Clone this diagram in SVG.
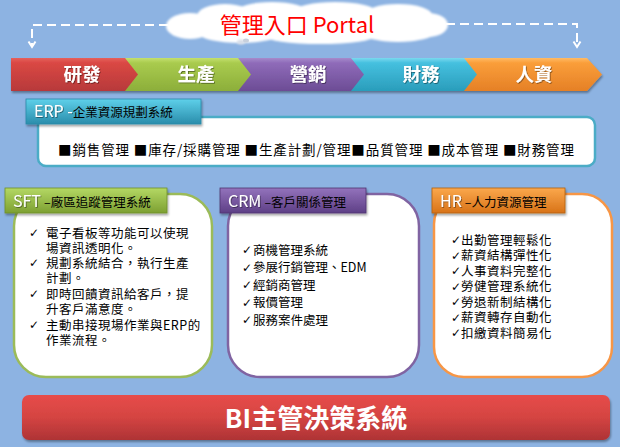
<svg xmlns="http://www.w3.org/2000/svg" width="620" height="447" viewBox="0 0 620 447">
<defs>
<style>
.cjk{font-family:"Noto Sans CJK TC","Noto Sans CJK SC",sans-serif}
.chev{font-size:18.5px;fill:#fff;text-anchor:middle;font-weight:bold}
.body{font-size:12.5px;fill:#000}
.chk{font-family:"DejaVu Sans",sans-serif;font-size:12px;fill:#000}
.dash{fill:none;stroke:#fff;stroke-width:2;stroke-dasharray:9 5}
.box{fill:#fff;stroke-width:2.5}
.tabw{fill:#fff;font-size:16px}
.tabb{fill:#000;font-size:12.5px}
</style>
<filter id="sh" x="-10%" y="-20%" width="125%" height="160%"><feDropShadow dx="1" dy="2" stdDeviation="1.2" flood-color="#000" flood-opacity="0.35"/></filter>
<filter id="tsh" x="-10%" y="-20%" width="120%" height="150%"><feDropShadow dx="0.8" dy="0.8" stdDeviation="0.4" flood-color="#000" flood-opacity="0.5"/></filter>
<filter id="soft" x="-10%" y="-30%" width="120%" height="160%"><feGaussianBlur stdDeviation="1.2"/></filter>
<linearGradient id="gRed" x1="0" y1="0" x2="0" y2="1"><stop offset="0" stop-color="#E5605C"/><stop offset="0.15" stop-color="#DA4844"/><stop offset="1" stop-color="#B7393A"/></linearGradient>
<linearGradient id="gGreen" x1="0" y1="0" x2="0" y2="1"><stop offset="0" stop-color="#C4E06E"/><stop offset="0.15" stop-color="#A9CB4E"/><stop offset="1" stop-color="#8CAE3A"/></linearGradient>
<linearGradient id="gPurple" x1="0" y1="0" x2="0" y2="1"><stop offset="0" stop-color="#A68ACB"/><stop offset="0.15" stop-color="#8F6BB9"/><stop offset="1" stop-color="#6C4C95"/></linearGradient>
<linearGradient id="gCyan" x1="0" y1="0" x2="0" y2="1"><stop offset="0" stop-color="#7BD9EF"/><stop offset="0.15" stop-color="#45C0DF"/><stop offset="1" stop-color="#2A9DBB"/></linearGradient>
<linearGradient id="gOrange" x1="0" y1="0" x2="0" y2="1"><stop offset="0" stop-color="#FFBB66"/><stop offset="0.15" stop-color="#FA9E3A"/><stop offset="1" stop-color="#E58026"/></linearGradient>
<linearGradient id="tTeal" x1="0" y1="0" x2="0" y2="1"><stop offset="0" stop-color="#5ED0EA"/><stop offset="1" stop-color="#2A8DAB"/></linearGradient>
<linearGradient id="tGreen" x1="0" y1="0" x2="0" y2="1"><stop offset="0" stop-color="#B4D864"/><stop offset="1" stop-color="#7DA032"/></linearGradient>
<linearGradient id="tPurple" x1="0" y1="0" x2="0" y2="1"><stop offset="0" stop-color="#9373BC"/><stop offset="1" stop-color="#5E3F86"/></linearGradient>
<linearGradient id="tOrange" x1="0" y1="0" x2="0" y2="1"><stop offset="0" stop-color="#FBA84C"/><stop offset="1" stop-color="#D87318"/></linearGradient>
<linearGradient id="gBI" x1="0" y1="0" x2="0" y2="1"><stop offset="0" stop-color="#E74C49"/><stop offset="0.5" stop-color="#D44442"/><stop offset="1" stop-color="#AE3335"/></linearGradient>
</defs>
<rect width="620" height="447" fill="#8DB3E2"/>

<g id="connectors">
<path class="dash" d="M168 25 H32 V46"/>
<path d="M28.5 41.5 L32 47 L35.5 41.5" fill="none" stroke="#fff" stroke-width="2"/>
<path class="dash" d="M446 24 H577 V46"/>
<path d="M573.5 41.5 L577 47 L580.5 41.5" fill="none" stroke="#fff" stroke-width="2"/>
</g>

<g id="portal">
<g filter="url(#soft)" fill="#fff">
<ellipse cx="305" cy="24" rx="132" ry="15"/>
<ellipse cx="190" cy="26" rx="24" ry="13"/>
<ellipse cx="225" cy="16" rx="28" ry="12"/>
<ellipse cx="272" cy="12" rx="36" ry="10"/>
<ellipse cx="335" cy="11" rx="40" ry="9"/>
<ellipse cx="398" cy="15" rx="34" ry="11"/>
<ellipse cx="428" cy="25" rx="20" ry="12"/>
<ellipse cx="240" cy="34" rx="40" ry="9"/>
<ellipse cx="320" cy="36" rx="55" ry="8"/>
<ellipse cx="398" cy="33" rx="36" ry="9"/>
</g>
<ellipse cx="241" cy="42" rx="4" ry="2.5" fill="#D8DEE8" filter="url(#soft)"/>
<ellipse cx="246" cy="40.5" rx="3" ry="2" fill="#C8D0DC"/>
<text class="cjk" x="297" y="33" font-size="22" fill="#FF0000" text-anchor="middle">管理入口 Portal</text>
</g>

<g id="process" filter="url(#sh)">
<g id="orange"><path d="M463 58 H587 L602 74.5 L587 91 H463 L476 74.5 Z" fill="url(#gOrange)"/><text class="cjk chev" x="534" y="81" filter="url(#tsh)">人資</text></g>
<g id="cyan"><path d="M350 58 H464 L477 74.5 L464 91 H350 L363 74.5 Z" fill="url(#gCyan)"/><text class="cjk chev" x="421" y="81" filter="url(#tsh)">財務</text></g>
<g id="purple"><path d="M237 58 H351 L364 74.5 L351 91 H237 L250 74.5 Z" fill="url(#gPurple)"/><text class="cjk chev" x="308" y="81" filter="url(#tsh)">營銷</text></g>
<g id="green"><path d="M124 58 H238 L251 74.5 L238 91 H124 L137 74.5 Z" fill="url(#gGreen)"/><text class="cjk chev" x="196" y="81" filter="url(#tsh)">生產</text></g>
<g id="red"><path d="M11 58 H125 L138 74.5 L125 91 H11 Z" fill="url(#gRed)"/><text class="cjk chev" x="82" y="81" filter="url(#tsh)">研發</text></g>
</g>

<g id="erp">
<rect class="box" x="38" y="117" width="557" height="49" rx="8" stroke="#4BACC6"/>
<rect x="26" y="99" width="175" height="25" fill="url(#tTeal)" stroke="#2A8AA8" stroke-width="0.8" filter="url(#sh)"/>
<text class="cjk" x="34" y="117"><tspan class="tabw" font-size="14" filter="url(#tsh)">ERP -</tspan><tspan class="tabb" font-size="12.5">企業資源規劃系統</tspan></text>
<text class="cjk" x="58" y="155" font-size="13.5" fill="#000" textLength="516" lengthAdjust="spacing">■銷售管理 ■庫存/採購管理 ■生產計劃/管理■品質管理 ■成本管理 ■財務管理</text>
</g>

<g id="sft">
<rect class="box" x="14" y="194" width="198" height="183" rx="32" stroke="#9BBB59"/>
<rect x="5" y="188" width="162" height="25" fill="url(#tGreen)" stroke="#6F8F2C" stroke-width="0.8" filter="url(#sh)"/>
<text class="cjk" x="13" y="206.5"><tspan class="tabw" filter="url(#tsh)">SFT</tspan><tspan class="tabb" dx="3">–廠區追蹤管理系統</tspan></text>
<text class="chk"><tspan x="29" y="237">✓</tspan><tspan x="29" y="267">✓</tspan><tspan x="29" y="298">✓</tspan><tspan x="29" y="329">✓</tspan></text>
<text class="cjk body" letter-spacing="0.5"><tspan x="46" y="237.5">電子看板等功能可以使現</tspan><tspan x="46" y="252.5">場資訊透明化。</tspan><tspan x="46" y="267.5">規劃系統結合，執行生產</tspan><tspan x="46" y="282.5">計劃。</tspan><tspan x="46" y="298.5">即時回饋資訊給客戶，提</tspan><tspan x="46" y="313.5">升客戶滿意度。</tspan><tspan x="46" y="329.5">主動串接現場作業與ERP的</tspan><tspan x="46" y="344.5">作業流程。</tspan></text>
</g>

<g id="crm">
<rect class="box" x="228" y="194" width="191" height="183" rx="32" stroke="#8064A2"/>
<rect x="220" y="188" width="146" height="25" fill="url(#tPurple)" stroke="#4E3470" stroke-width="0.8" filter="url(#sh)"/>
<text class="cjk" x="228" y="206.5"><tspan class="tabw" filter="url(#tsh)">CRM</tspan><tspan class="tabb" dx="3">–客戶關係管理</tspan></text>
<text class="chk"><tspan x="242" y="254">✓</tspan><tspan x="242" y="271.5">✓</tspan><tspan x="242" y="289">✓</tspan><tspan x="242" y="306.5">✓</tspan><tspan x="242" y="324">✓</tspan></text>
<text class="cjk body" font-size="13"><tspan x="253" y="254.5">商機管理系統</tspan><tspan x="253" y="272">參展行銷管理、EDM</tspan><tspan x="253" y="289.5">經銷商管理</tspan><tspan x="253" y="307">報價管理</tspan><tspan x="253" y="324.5">服務案件處理</tspan></text>
</g>

<g id="hr">
<rect class="box" x="434" y="194" width="178" height="183" rx="30" stroke="#F79646"/>
<rect x="432" y="188" width="133" height="25" fill="url(#tOrange)" stroke="#B5600F" stroke-width="0.8" filter="url(#sh)"/>
<text class="cjk" x="440" y="206.5"><tspan class="tabw" filter="url(#tsh)">HR</tspan><tspan class="tabb" dx="3">–人力資源管理</tspan></text>
<text class="chk"><tspan x="451" y="244">✓</tspan><tspan x="451" y="259.5">✓</tspan><tspan x="451" y="275">✓</tspan><tspan x="451" y="290.5">✓</tspan><tspan x="451" y="306">✓</tspan><tspan x="451" y="321.5">✓</tspan><tspan x="451" y="337">✓</tspan></text>
<text class="cjk body" font-size="12.4" letter-spacing="0.5"><tspan x="461" y="244.5">出勤管理輕鬆化</tspan><tspan x="461" y="260">薪資結構彈性化</tspan><tspan x="461" y="275.5">人事資料完整化</tspan><tspan x="461" y="291">勞健管理系統化</tspan><tspan x="461" y="306.5">勞退新制結構化</tspan><tspan x="461" y="322">薪資轉存自動化</tspan><tspan x="461" y="337.5">扣繳資料簡易化</tspan></text>
</g>

<g id="bi">
<rect x="22" y="395" width="588" height="45" rx="7" fill="url(#gBI)" filter="url(#sh)"/>
<text class="cjk" x="316" y="428" font-size="26" font-weight="bold" fill="#fff" text-anchor="middle">BI主管決策系統</text>
</g>
</svg>
